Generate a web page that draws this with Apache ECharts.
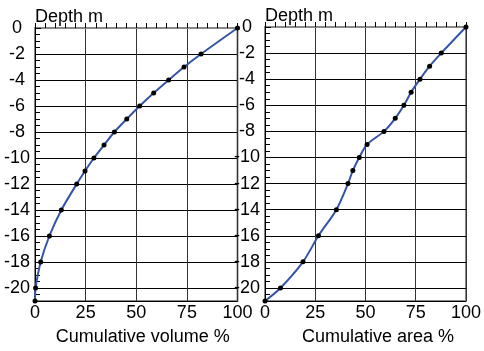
<!DOCTYPE html>
<html>
<head>
<meta charset="utf-8">
<script src="https://cdn.jsdelivr.net/npm/echarts@6/dist/echarts.min.js"></script>
<style>
  html, body { margin: 0; padding: 0; background: #fff; }
  #chart { width: 484px; height: 351px; }
</style>
</head>
<body>
<div id="chart"></div>
<script>
// depth below surface (m), drawn as negative labels
const depths = [0, 2, 3, 4, 5, 6, 7, 8, 9, 10, 11, 12, 14, 16, 18, 20, 21];
const volumePct = [100, 82.0, 73.6, 66.0, 58.6, 51.7, 45.3, 39.2, 34.1, 29.1, 24.7, 20.6, 13.0, 7.1, 2.8, 0.3, 0];
const areaPct = [100, 87.7, 81.9, 77.1, 72.7, 69.1, 64.8, 59.2, 50.8, 46.9, 43.7, 41.3, 35.5, 26.6, 18.9, 7.7, 0];
const xTitles = ['Cumulative volume %', 'Cumulative area %'];

const font = 'Liberation Sans, Arial, sans-serif';
const chart = echarts.init(document.getElementById('chart'));

const xAxis = (idx, shift) => ({
  type: 'value',
  gridIndex: idx,
  min: 0,
  max: 100,
  interval: 25,
  name: xTitles[idx],
  nameLocation: 'middle',
  nameGap: 27,
  nameTextStyle: { fontFamily: font, fontSize: 18, color: '#000', padding: [0, 0, 0, shift] },
  axisLine: { lineStyle: { color: '#888', width: 2 } },
  axisTick: { inside: true, length: 5, lineStyle: { color: '#000' } },
  minorTick: { show: true, splitNumber: 5, length: 5, lineStyle: { color: '#000' } },
  axisLabel: { fontFamily: font, fontSize: 18, color: '#000', margin: 3 },
  splitLine: { lineStyle: { color: '#333', width: 1 } }
});

const yAxis = (idx) => ({
  type: 'value',
  gridIndex: idx,
  inverse: true,
  min: 0,
  max: 21,
  interval: 2,
  name: 'Depth m',
  nameLocation: 'start',
  nameGap: 2,
  nameTextStyle: { fontFamily: font, fontSize: 18, color: '#000', align: 'left', verticalAlign: 'bottom' },
  axisLine: { lineStyle: { color: '#000', width: 1 } },
  axisTick: { inside: true, length: 6, lineStyle: { color: '#000' } },
  minorTick: { show: true, splitNumber: 4, length: 5, lineStyle: { color: '#000' } },
  axisLabel: {
    fontFamily: font, fontSize: 18, color: '#000', align: 'center', margin: 18,
    formatter: v => v === 0 ? '0' : (v > 20 ? '' : '-' + v)
  },
  splitLine: { lineStyle: { color: '#000', width: 1 } }
});

const series = (idx, pct) => ({
  type: 'line',
  xAxisIndex: idx,
  yAxisIndex: idx,
  data: pct.map((p, i) => [p, depths[i]]),
  smooth: 0.3,
  symbol: 'circle',
  symbolSize: 5,
  itemStyle: { color: '#000' },
  lineStyle: { color: '#3354a8', width: 2 },
  z: 5
});

chart.setOption({
  animation: false,
  textStyle: { fontFamily: font },
  grid: [
    { left: 35, top: 28, width: 202.5, height: 276, show: true, borderColor: '#888', borderWidth: 2 },
    { left: 265, top: 27, width: 202.5, height: 275.5, show: true, borderColor: '#888', borderWidth: 2 }
  ],
  xAxis: [xAxis(0, 13), xAxis(1, 25)],
  yAxis: [yAxis(0), yAxis(1)],
  series: [series(0, volumePct), series(1, areaPct)]
});
</script>
</body>
</html>
